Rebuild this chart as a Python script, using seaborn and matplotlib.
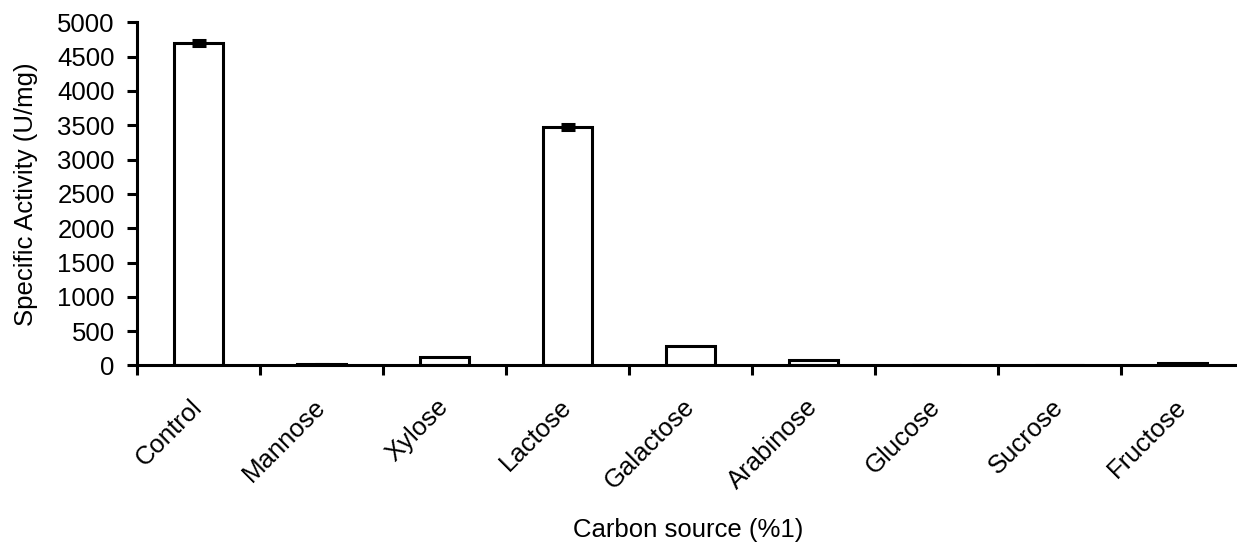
import seaborn as sns
import pandas as pd
import matplotlib.pyplot as plt
import numpy as np

# values
sources = ['Control', 'Mannose', 'Xylose', 'Lactose', 'Galactose',
           'Arabinose', 'Glucose', 'Sucrose', 'Fructose']
activity = [4700, 15, 125, 3470, 285, 75, 0, 0, 35]
activity_err = [40, 12, 0, 45, 0, 0, 0, 0, 0]
yticks = [0, 500, 1000, 1500, 2000, 2500, 3000, 3500, 4000, 4500, 5000]


def show():
    sns.set_style('white', {'text.color': 'black', 'axes.labelcolor': 'black',
                            'xtick.color': 'black', 'ytick.color': 'black'})
    plt.rcParams['font.family'] = ['Liberation Sans', 'DejaVu Sans']

    df = pd.DataFrame({'source': sources, 'activity': activity})

    fig = plt.figure(figsize=(12.37, 5.45), dpi=100)
    ax = fig.add_axes([0.1108, 0.3294, 0.8949, 0.6296])

    sns.barplot(data=df, x='source', y='activity', order=sources, ax=ax,
                color='white', edgecolor='black', linewidth=2.2, width=0.4,
                errorbar=None)
    pos = np.arange(len(sources))
    err = np.array(activity_err)
    keep = err > 0
    ax.errorbar(pos[keep], np.array(activity)[keep], yerr=err[keep], fmt='none',
                ecolor='black', elinewidth=2.2, capsize=5, capthick=2.2, zorder=3)

    ax.set_xlim(-0.5, len(sources) - 0.5)
    ax.set_ylim(0, 5000)
    ax.set_yticks(yticks)

    for s in ['top', 'right']:
        ax.spines[s].set_visible(False)
    for s in ['left', 'bottom']:
        ax.spines[s].set_linewidth(2.2)
        ax.spines[s].set_color('black')

    fs = 18.5
    ax.set_xticks(pos)
    ax.set_xticklabels(sources, rotation=45, ha='right', va='center',
                       rotation_mode='anchor', fontsize=fs, color='black')
    ax.set_xticks(np.arange(len(sources) + 1) - 0.5, minor=True)
    ax.tick_params(axis='x', which='major', length=0, pad=27)
    ax.tick_params(axis='x', which='minor', direction='out', length=7,
                   width=2.2, color='black', bottom=True)
    ax.tick_params(axis='y', direction='out', length=7, width=2.2,
                   color='black', labelcolor='black', left=True,
                   labelsize=fs, pad=9)

    ax.set_xlabel('Carbon source (%1)', fontsize=fs, va='center', color='black')
    ax.xaxis.set_label_coords(0.498, -0.48)
    ax.set_ylabel('Specific Activity (U/mg)', fontsize=fs, labelpad=14,
                  color='black')

    fig.savefig('out.png', dpi=100)


if __name__ == '__main__':
    show()
